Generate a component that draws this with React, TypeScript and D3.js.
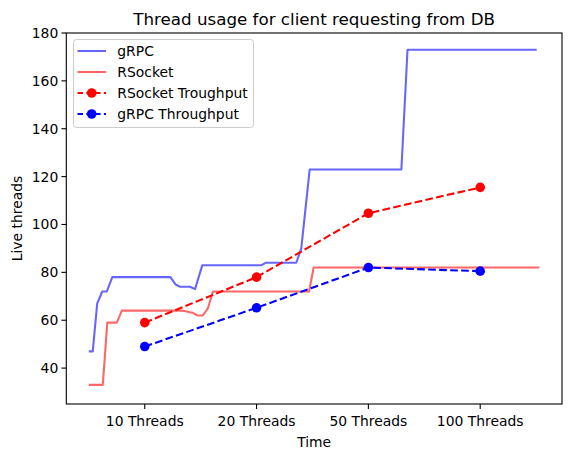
import React from 'react';
import * as d3 from 'd3';

// time samples (x unit = tick spacing / 20)
const grpcTime = [0, 0.7, 1.5, 2.4, 3.2, 4.2, 14.6, 15.5, 16.3, 18.1, 19.0, 20.3, 30.9, 31.6, 37.1, 38.0, 39.5, 55.9, 57.0, 80.1];
const grpcThreads = [47, 47, 67, 72, 72, 78, 78, 75, 74, 74, 73, 83, 83, 84, 84, 90, 123, 123, 173, 173];

const rsocketTime = [0, 2.5, 3.3, 5.0, 5.9, 16.9, 18.7, 19.4, 20.4, 21.3, 22.2, 39.4, 40.2, 80.6];
const rsocketThreads = [33, 33, 59, 59, 64, 64, 63, 62, 62, 65, 72, 72, 82, 82];

const tickTimes = [10, 30, 50, 70];
const tickLabels = ['10 Threads', '20 Threads', '50 Threads', '100 Threads'];
const rsocketThroughput = [59, 78, 104.7, 115.5];
const grpcThroughput = [49, 65.2, 82, 80.5];

const yTicks = [40, 60, 80, 100, 120, 140, 160, 180];
const yDomain = [25, 180];

const legendItems = [
    { label: 'gRPC', color: 'blue', opacity: 0.6, dashed: false, marker: false },
    { label: 'RSocket', color: 'red', opacity: 0.6, dashed: false, marker: false },
    { label: 'RSocket Troughput', color: 'red', opacity: 1, dashed: true, marker: true },
    { label: 'gRPC Throughput', color: 'blue', opacity: 1, dashed: true, marker: true },
];

const font = 'DejaVu Sans, sans-serif';

const App = () => {
    const width = 571;
    const height = 455;
    const margin = { top: 33, right: 9, bottom: 51, left: 66.3 };
    const x0 = margin.left;
    const x1 = width - margin.right;
    const y0 = margin.top;
    const y1 = height - margin.bottom;

    const [tMin, tMax] = d3.extent([...grpcTime, ...rsocketTime]) as [number, number];
    const pad = (tMax - tMin) * 0.05;
    const xScale = d3.scaleLinear().domain([tMin - pad, tMax + pad]).range([x0, x1]);
    const yScale = d3.scaleLinear().domain(yDomain).range([y1, y0]);

    const line = d3
        .line<[number, number]>()
        .x((d) => xScale(d[0]))
        .y((d) => yScale(d[1]));

    const grpcPath = line(grpcTime.map((t, i) => [t, grpcThreads[i]]));
    const rsocketPath = line(rsocketTime.map((t, i) => [t, rsocketThreads[i]]));
    const rsTpPath = line(tickTimes.map((t, i) => [t, rsocketThroughput[i]]));
    const grTpPath = line(tickTimes.map((t, i) => [t, grpcThroughput[i]]));

    const dash = '7.7 3.3';
    const markerR = 4.8;

    return (
        <div style={{ position: 'absolute', left: 0, top: 0 }}>
            <svg width={width} height={height} style={{ display: 'block', background: 'white' }}>
                {/* title */}
                <text x={(x0 + x1) / 2} y={24.5} textAnchor="middle" fontFamily={font} fontSize={16.7} fill="black">
                    Thread usage for client requesting from DB
                </text>

                {/* lines */}
                <path d={grpcPath} fill="none" stroke="blue" strokeOpacity={0.6} strokeWidth={2.08} strokeLinejoin="round" />
                <path d={rsocketPath} fill="none" stroke="red" strokeOpacity={0.6} strokeWidth={2.08} strokeLinejoin="round" />

                <path d={rsTpPath} fill="none" stroke="red" strokeWidth={2.08} strokeDasharray={dash} />
                {tickTimes.map((t, i) => (
                    <circle key={'r' + t} cx={xScale(t)} cy={yScale(rsocketThroughput[i])} r={markerR} fill="red" />
                ))}
                <path d={grTpPath} fill="none" stroke="blue" strokeWidth={2.08} strokeDasharray={dash} />
                {tickTimes.map((t, i) => (
                    <circle key={'g' + t} cx={xScale(t)} cy={yScale(grpcThroughput[i])} r={markerR} fill="blue" />
                ))}

                {/* frame */}
                <rect x={x0} y={y0} width={x1 - x0} height={y1 - y0} fill="none" stroke="black" strokeWidth={1.1} />

                {/* x ticks */}
                {tickTimes.map((t, i) => (
                    <g key={t} transform={`translate(${xScale(t)}, ${y1})`}>
                        <line y2={4.9} stroke="black" strokeWidth={1.1} />
                        <text y={17} textAnchor="middle" dominantBaseline="central" fontFamily={font} fontSize={13.9} fill="black">
                            {tickLabels[i]}
                        </text>
                    </g>
                ))}
                <text x={(x0 + x1) / 2} y={442} textAnchor="middle" dominantBaseline="central" fontFamily={font} fontSize={13.9} fill="black">
                    Time
                </text>

                {/* y ticks */}
                {yTicks.map((v) => (
                    <g key={v} transform={`translate(${x0}, ${yScale(v)})`}>
                        <line x2={-4.9} stroke="black" strokeWidth={1.1} />
                        <text x={-8} textAnchor="end" dominantBaseline="central" fontFamily={font} fontSize={13.9} fill="black">
                            {v}
                        </text>
                    </g>
                ))}
                <text
                    transform={`translate(17, ${(y0 + y1) / 2}) rotate(-90)`}
                    textAnchor="middle"
                    dominantBaseline="central"
                    fontFamily={font}
                    fontSize={13.9}
                    fill="black"
                >
                    Live threads
                </text>

                {/* legend */}
                <rect x={73.5} y={39.5} width={180} height={88} rx={3} fill="white" fillOpacity={0.8} stroke="#cccccc" />
                {legendItems.map((d, i) => {
                    const ly = 51 + i * 21;
                    return (
                        <g key={d.label}>
                            <line
                                x1={77.5}
                                x2={106}
                                y1={ly}
                                y2={ly}
                                stroke={d.color}
                                strokeOpacity={d.opacity}
                                strokeWidth={2.08}
                                strokeDasharray={d.dashed ? '5.5 3.3' : undefined}
                            />
                            {d.marker && <circle cx={91.7} cy={ly} r={markerR} fill={d.color} />}
                            <text x={117.3} y={ly} dominantBaseline="central" fontFamily={font} fontSize={13.9} fill="black">
                                {d.label}
                            </text>
                        </g>
                    );
                })}
            </svg>
        </div>
    );
};

export default App;
